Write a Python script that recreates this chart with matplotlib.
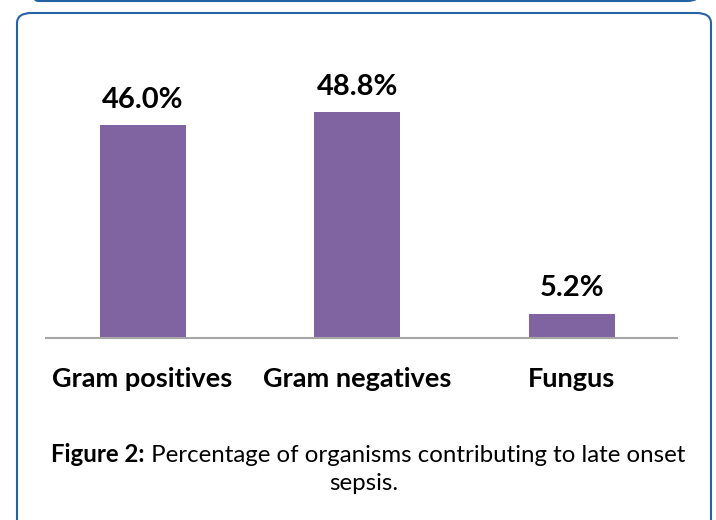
import matplotlib
matplotlib.use("Agg")
import matplotlib.pyplot as plt
from matplotlib.patches import FancyBboxPatch

categories = ["Gram positives", "Gram negatives", "Fungus"]
values = [46.0, 48.8, 5.2]
value_labels = ["46.0%", "48.8%", "5.2%"]
caption_bold = "Figure 2:"
caption_rest = " Percentage of organisms contributing to late onset"
caption_line2 = "sepsis."

W, H = 716, 520
fig = plt.figure(figsize=(W / 100, H / 100), dpi=100)
FONT = "Lato"
border = "#2462A3"

def px(x, y):
    return x / W, 1 - y / H

# top (cut) box
top = FancyBboxPatch((25 / W, 1 - 1 / H), (700 - 25) / W, 0.2,
                     boxstyle="round,pad=0,rounding_size=0.018",
                     transform=fig.transFigure, fill=False, edgecolor=border, lw=1.5)
fig.patches.append(top)
# main box
main = FancyBboxPatch((17 / W, -0.1), (711 - 17) / W, 0.1 + (1 - 13 / H),
                      boxstyle="round,pad=0,rounding_size=0.02",
                      transform=fig.transFigure, fill=False, edgecolor=border, lw=1.5)
fig.patches.append(main)

# axes: x from 46 to 677 px, y baseline 338
x0, x1 = 46, 677
ybase = 338
scale = 4.63
ytop = 60
ax = fig.add_axes([x0 / W, 1 - ybase / H, (x1 - x0) / W, (ybase - ytop) / H])
ymax = (ybase - ytop) / scale
xs = list(range(len(categories)))
ax.bar(xs, values, width=0.4, color="#8064A2", zorder=2)
ax.set_xlim(-0.45, 2.49)
ax.set_ylim(0, ymax)
for s in ["top", "right", "left"]:
    ax.spines[s].set_visible(False)
ax.spines["bottom"].set_color("#A6A6A6")
ax.spines["bottom"].set_linewidth(1.5)
ax.set_yticks([])
ax.set_xticks(xs)
ax.set_xticklabels(categories, fontsize=19.5, fontweight="bold", family=FONT)
ax.tick_params(axis="x", length=0, pad=21)
for x, v, lab in zip(xs, values, value_labels):
    ax.annotate(lab, (x, v), xytext=(0, 9), textcoords="offset points",
                ha="center", va="bottom", fontsize=21, fontweight="bold", family=FONT)

# caption
fig.canvas.draw()
r = fig.canvas.get_renderer()
cx = 368
t1 = fig.text(0, 0, caption_bold, fontsize=17.3, fontweight="bold", family=FONT)
t2 = fig.text(0, 0, caption_rest, fontsize=17.3, family=FONT)
w1 = t1.get_window_extent(r).width
w2 = t2.get_window_extent(r).width
start = cx - (w1 + w2) / 2
t1.set_position(px(start, 462))
t2.set_position(px(start + w1, 462))
fig.text(*px(cx - 4, 490), caption_line2, fontsize=17.3, family=FONT, ha="center")

fig.savefig("out.png", dpi=100)
